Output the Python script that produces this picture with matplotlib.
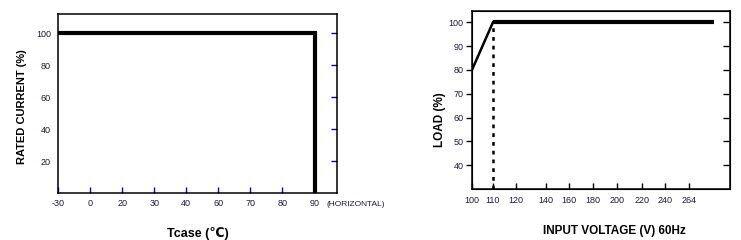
import numpy as np
import matplotlib
matplotlib.use("Agg")
from matplotlib import pyplot as plt

plt.rcParams['font.family'] = ['Liberation Sans', 'DejaVu Sans']

# left chart: derating vs case temperature
temp_ticks = [-30, 0, 20, 30, 40, 60, 70, 80, 90]
current_ticks = [20, 40, 60, 80, 100]
curve_temp = [-30, 90, 90]
curve_current = [100, 100, 0]

# right chart: load vs input voltage
volt_ticks = [100, 110, 120, 140, 160, 180, 200, 220, 240, 264]
load_ticks = [40, 50, 60, 70, 80, 90, 100]
curve_volt = [100, 110, 290]
curve_load = [80, 100, 100]
dotted_volt = [110, 110]
dotted_load = [30, 100]

label_col = '#1c1c3a'

fig = plt.figure(figsize=(7.41, 2.40), dpi=100)

# ---- left ----
ax1 = fig.add_axes([58/741, 47/240, 279/741, 179/240])
t_pos = np.arange(len(temp_ticks))
def t2x(t):
    return np.interp(t, temp_ticks, t_pos)

ax1.plot(t2x(curve_temp), curve_current, color='black', lw=3.0,
         solid_joinstyle='miter', solid_capstyle='butt', clip_on=False)
ax1.set_xlim(0, 8.7)
ax1.set_ylim(0, 112)
ax1.set_xticks(t_pos)
ax1.set_xticklabels([str(t) for t in temp_ticks])
ax1.set_yticks(current_ticks)
ax1.tick_params(axis='x', direction='in', color='blue', length=4, width=1,
                labelsize=6.5, labelcolor=label_col, pad=4)
ax1.tick_params(axis='y', direction='in', color='blue', length=4, width=1,
                labelsize=6.5, labelcolor=label_col, left=False, right=True,
                labelleft=True, pad=5)
for s in ax1.spines.values():
    s.set_linewidth(1.1)
ax1.text(0.962, -0.045, '(HORIZONTAL)', transform=ax1.transAxes, ha='left', va='top',
         fontsize=6, color=label_col)
ax1.set_xlabel('Tcase (\u2103)', fontsize=9, fontweight='bold', labelpad=14)
ax1.set_ylabel('RATED CURRENT (%)', fontsize=8, fontweight='bold')
ax1.yaxis.set_label_coords(-0.11, 0.48)

# ---- right ----
ax2 = fig.add_axes([472/741, 51/240, 258/741, 178/240])
v_pos = [0, 0.875, 1.83, 3.08, 4.04, 5.04, 6.04, 7.08, 8.04, 9.04]
v_map = volt_ticks + [300]
p_map = v_pos + [10.5]
def v2x(v):
    return np.interp(v, v_map, p_map)

ax2.plot(v2x(curve_volt[:2]), curve_load[:2], color='black', lw=1.8)
ax2.plot(v2x(curve_volt[1:]), curve_load[1:], color='black', lw=3.0,
         solid_capstyle='butt')
ax2.plot(v2x(dotted_volt), dotted_load, color='black', lw=1.8,
         linestyle=(0, (1.5, 2.0)))
ax2.set_xlim(0, 10.75)
ax2.set_ylim(30, 104.7)
ax2.set_xticks(v_pos)
ax2.set_xticklabels([str(v) for v in volt_ticks])
ax2.set_yticks(load_ticks)
ax2.tick_params(axis='x', direction='in', length=4, width=1,
                labelsize=6.5, labelcolor=label_col, pad=5)
ax2.tick_params(axis='y', direction='out', length=4, width=1,
                labelsize=6.5, labelcolor=label_col, pad=2)
for s in ax2.spines.values():
    s.set_linewidth(1.1)

# inner ticks on the right side
ax2r = ax2.twinx()
ax2r.set_ylim(ax2.get_ylim())
ax2r.set_yticks(load_ticks)
ax2r.tick_params(axis='y', direction='in', length=5, width=1, labelright=False)

ax2.set_xlabel('INPUT VOLTAGE (V) 60Hz', fontsize=8.5, fontweight='bold')
ax2.xaxis.set_label_coords(0.55, -0.2)
ax2.set_ylabel('LOAD (%)', fontsize=8.5, fontweight='bold')
ax2.yaxis.set_label_coords(-0.10, 0.39)

fig.savefig('out.png', dpi=100)
